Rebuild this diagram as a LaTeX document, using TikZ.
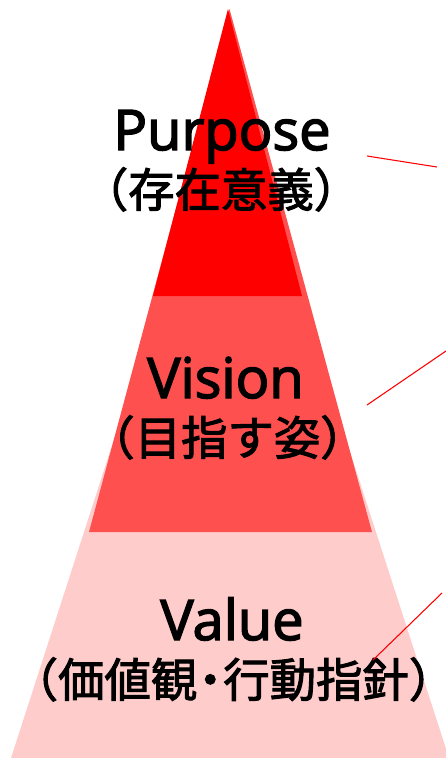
\documentclass[tikz,border=0pt]{standalone}
\usepackage{fontspec}
\setmainfont{Open Sans}[BoldFont={*},BoldFeatures={FakeBold=2.6}]
\newfontfamily\jpfont{Noto Sans CJK JP}[BoldFont={*},BoldFeatures={FakeBold=2.2}]
\definecolor{topred}{HTML}{FF0000}
\definecolor{midred}{HTML}{FF5050}
\definecolor{lowpink}{HTML}{FFCCCC}
\newcommand{\jpdot}{\kern-0.22em・\kern-0.22em}
\begin{document}
\begin{tikzpicture}[x=0.75pt,y=-0.75pt,
  entitle/.style={font=\bfseries\fontsize{42}{42}\selectfont, text=black, inner sep=0pt, anchor=base},
  jptitle/.style={font=\jpfont\bfseries\fontsize{34.8}{34.8}\selectfont, text=black, inner sep=0pt, anchor=base},
  leader/.style={draw=topred, line width=0.8pt}]
\useasboundingbox (0,0) rectangle (446,758);
\begin{scope}
\clip (0,0) rectangle (446,758);
% layers
\fill[lowpink] (230,80) -- (11,758) -- (449,758) -- cycle;
\fill[midred] (229.5,9) -- (89,532) -- (372,532) -- cycle;
\fill[topred] (228,9) -- (153,296) -- (302,296) -- cycle;
\end{scope}
% texts
\node[entitle] (purpose) at (222,150) {Purpose};
\node[jptitle] (purposejp) at (221,207) {（存在意義）};
\node[entitle] (vision) at (225.5,398) {Vision};
\node[jptitle] (visionjp) at (227.5,455) {（目指す姿）};
\node[entitle] (value) at (232,640) {Value};
\node[jptitle] (valuejp) at (233.5,697) {（価値観\jpdot 行動指針）};
% leader lines
\coordinate (l1a) at (367,156);
\coordinate (l1b) at (437,167);
\coordinate (l2a) at (367,405);
\coordinate (l2b) at (446,351);
\coordinate (l3a) at (373,660);
\coordinate (l3b) at (442,593);
\draw[leader] (l1a) -- (l1b);
\draw[leader] (l2a) -- (l2b);
\draw[leader] (l3a) -- (l3b);
\end{tikzpicture}
\end{document}
